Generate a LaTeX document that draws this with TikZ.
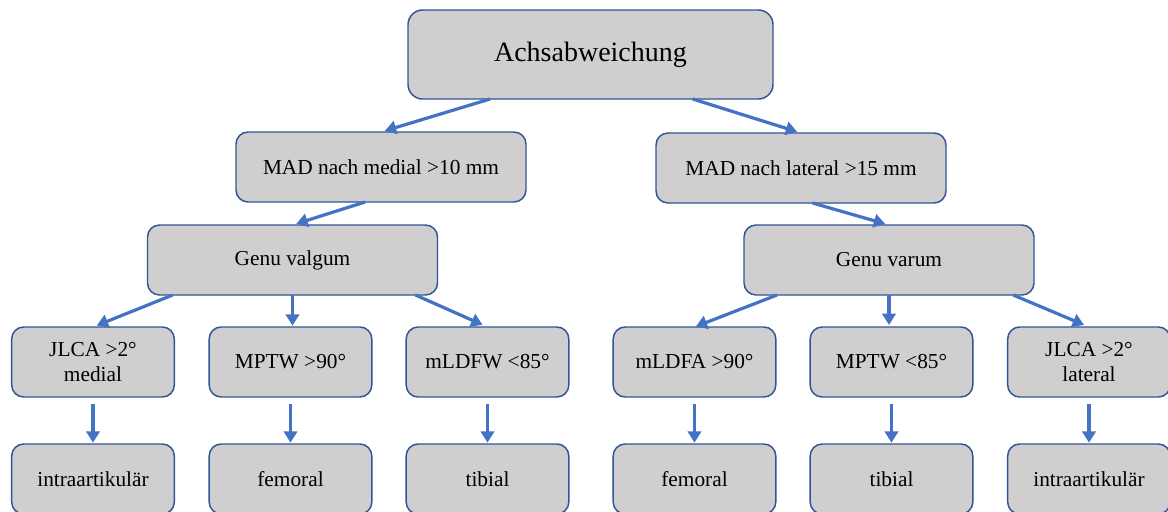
\documentclass[tikz,border=0pt]{standalone}
\usepackage{fontspec}
\setmainfont{Liberation Serif}
\usetikzlibrary{arrows.meta,calc}
\definecolor{boxfill}{HTML}{D0CECE}
\definecolor{boxline}{HTML}{2F5597}
\definecolor{arrowblue}{HTML}{4472C4}
\tikzset{
  box/.style={draw=boxline, fill=boxfill, line width=1.1pt, rounded corners=9pt,
    inner sep=0pt, outer sep=0pt, align=center, text=black,
    font=\fontsize{16}{18.75}\selectfont,
    minimum width=122pt, minimum height=52.5pt},
  midbox/.style={box, minimum width=217.5pt},
  topbox/.style={box, minimum width=273.75pt, minimum height=66.75pt,
    rounded corners=11pt, font=\fontsize{21}{25}\selectfont},
  conn/.style={draw=arrowblue, line width=2.4pt,
    -{Triangle[length=8.5pt,width=10pt]}},
}
\begin{document}
\begin{tikzpicture}[x=0.75pt,y=-0.75pt]
\useasboundingbox (0,0) rectangle (1168,511);
\clip (0,0) rectangle (1168,511);
% top
\node[topbox] (top) at (590.5,54.5) {Achsabweichung};
% level 2
\node[midbox] (madm) at (381,167) {MAD nach medial >10 mm};
\node[midbox] (madl) at (801,168) {MAD nach lateral >15 mm};
% level 3
\node[midbox] (gval) at (292.5,260) {Genu valgum};
\node[midbox] (gvar) at (889,260) {Genu varum};
% level 4
\node[box] (jlcam) at (93,362) {JLCA >2°\\medial};
\node[box] (mptwg) at (290.5,362) {MPTW >90°};
\node[box] (mldfw) at (487.5,362) {mLDFW <85°};
\node[box] (mldfa) at (694.5,362) {mLDFA >90°};
\node[box] (mptwk) at (891.5,362) {MPTW <85°};
\node[box] (jlcal) at (1089,362) {JLCA >2°\\lateral};
% level 5
\node[box] (intram) at (93,479) {intraartikulär};
\node[box] (femg) at (290.5,479) {femoral};
\node[box] (tibg) at (487.5,479) {tibial};
\node[box] (femk) at (694.5,479) {femoral};
\node[box] (tibk) at (891.5,479) {tibial};
\node[box] (intral) at (1089,479) {intraartikulär};
% connectors
\draw[conn, shorten >=3pt] ($(top.south west)!0.225!(top.south east)$) -- (madm.north);
\draw[conn, shorten >=3pt] ($(top.south west)!0.78!(top.south east)$) -- (madl.north);
\draw[conn, shorten >=3pt] ($(madm.south west)!0.445!(madm.south east)$) -- (gval.north);
\draw[conn, shorten >=3pt] ($(madl.south west)!0.54!(madl.south east)$) -- (gvar.north);
\draw[conn, shorten >=3pt] ($(gval.south west)!0.087!(gval.south east)$) -- (jlcam.north);
\draw[conn, shorten >=1pt] (gval.south) -- (gval.south |- mptwg.north);
\draw[conn, shorten >=4pt] ($(gval.south west)!0.924!(gval.south east)$) -- (mldfw.north);
\draw[conn, shorten >=1pt] ($(gvar.south west)!0.114!(gvar.south east)$) -- (mldfa.north);
\draw[conn, shorten >=1.5pt] (gvar.south) -- (gvar.south |- mptwk.north);
\draw[conn, shorten >=4pt] ($(gvar.south west)!0.928!(gvar.south east)$) -- (jlcal.north);
\foreach \a/\b in {jlcam/intram, mptwg/femg, mldfw/tibg, mldfa/femk, mptwk/tibk, jlcal/intral}
  \draw[conn, shorten <=5pt, shorten >=1pt] (\a.south) -- (\b.north);
\end{tikzpicture}
\end{document}
